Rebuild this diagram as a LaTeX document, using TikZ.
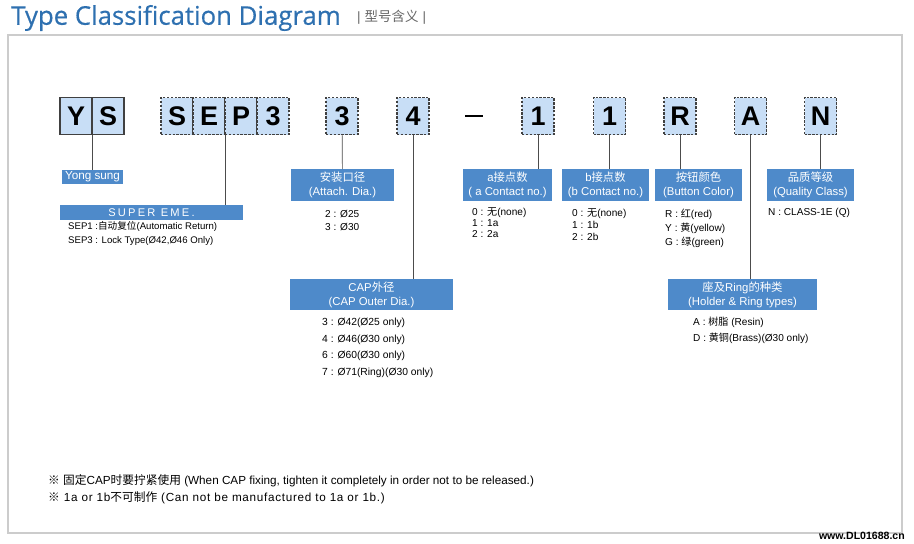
\documentclass[tikz,border=0pt]{standalone}
\usepackage{fontspec}
\setmainfont{Liberation Sans}
\newfontfamily\cjk{Noto Sans CJK SC}
\newfontfamily\titlefont[FakeBold=0.5]{Open Sans}
\usetikzlibrary{positioning}
\definecolor{titleblue}{RGB}{46,112,176}
\definecolor{keyfill}{RGB}{200,222,246}
\definecolor{tagblue}{RGB}{78,138,202}
\definecolor{framegray}{RGB}{204,204,204}
\newcommand{\zh}[1]{{\cjk #1}}

\begin{document}
\begin{tikzpicture}[
  x=0.3mm,y=-0.3mm,
  key/.style={draw=black!75,dash pattern=on 2pt off 1.3pt,fill=keyfill,line width=0.9pt,
              minimum width=9.6mm,minimum height=11.1mm,inner sep=0pt,outer sep=0pt,
              font=\fontsize{23}{23}\selectfont\bfseries},
  keysolid/.style={key,solid},
  tag/.style={fill=tagblue,text=white,inner sep=0pt,outer sep=0pt,align=center,
              minimum height=9.6mm,font=\fontsize{9.7}{12}\selectfont},
  lst/.style={anchor=north west,inner sep=0pt,align=left,font=\fontsize{8.6}{11}\selectfont},
  lead/.style={draw=black!70,line width=0.6pt},
]
\useasboundingbox (0,0) rectangle (914,543);

% heading and frame
\node[anchor=west,inner sep=0pt,text=titleblue,font=\titlefont\fontsize{22}{22}\selectfont]
  (title) at (11,18) {Type Classification Diagram};
\node[anchor=west,inner sep=0pt,text=black!60,font=\fontsize{11.5}{11.5}\selectfont]
  (subtitle) at (357,17) {|\hspace{1.2mm}\zh{型号含义}\hspace{1.2mm}|};
\node[draw=framegray,line width=1.4pt,inner sep=0pt,outer sep=0pt,
  minimum width=268.2mm,minimum height=149.4mm] (frame) at (455,284) {};

% code letters
\node[keysolid] (y) at (76,116) {Y};
\node[keysolid,right=0pt of y] (s) {S};
\node[key] (se) at (177,116) {S};
\node[key,right=0pt of se] (e) {E};
\node[key,right=0pt of e] (p) {P};
\node[key,right=0pt of p] (p3) {3};
\node[key] (dia) at (342,116) {3};
\node[key] (out) at (413,116) {4};
\node[inner sep=0pt] (dash) at (474,116) {\rule{5.4mm}{1.1pt}};
\node[key] (ac) at (538,116) {1};
\node[key] (bc) at (609.5,116) {1};
\node[key] (col) at (680,116) {R};
\node[key] (hold) at (750.5,116) {A};
\node[key] (qual) at (820.5,116) {N};

% blue tags
\node[tag,minimum width=18.3mm,minimum height=4.2mm,font=\fontsize{10}{10}\selectfont]
  (yong) at (92.5,177) {Yong sung};
\node[tag,minimum width=54.9mm,minimum height=4.5mm,
  font=\fontsize{9.5}{10}\selectfont\addfontfeatures{LetterSpace=20}]
  (super) at (151.5,212.5) {SUPER EME.};
\node[tag,minimum width=30.9mm] (attach) at (342.5,185) {\zh{安装口径}\\(Attach. Dia.)};
\node[tag,minimum width=26.7mm] (acont) at (507.5,185) {a\zh{接点数}\\( a Contact no.)};
\node[tag,minimum width=26.1mm] (bcont) at (605.5,185) {b\zh{接点数}\\(b Contact no.)};
\node[tag,minimum width=26.1mm] (button) at (698.5,185) {\zh{按钮颜色}\\(Button Color)};
\node[tag,minimum width=26.1mm] (quality) at (810.5,185) {\zh{品质等级}\\(Quality Class)};
\node[tag,minimum width=48.9mm,minimum height=9.3mm] (cap) at (371.5,294.5) {CAP\zh{外径}\\(CAP Outer Dia.)};
\node[tag,minimum width=44.7mm,minimum height=9.3mm] (holder) at (742.5,294.5) {\zh{座及}Ring\zh{的种类}\\(Holder \& Ring types)};

% option lists
\node[lst,font=\fontsize{8.2}{12.3}\selectfont] (seplist) at (68,221)
  {SEP1 :\zh{自动复位}(Automatic Return)\\SEP3 : Lock Type(Ø42,Ø46 Only)};
\node[lst] (attlist) at (325,210) {2 : Ø25\\3 : Ø30};
\node[lst,font=\fontsize{8.6}{9.6}\selectfont] (alist) at (472,207) {0 : \zh{无}(none)\\1 : 1a\\2 : 2a};
\node[lst,font=\fontsize{8.6}{10.6}\selectfont] (blist) at (572,208) {0 : \zh{无}(none)\\1 : 1b\\2 : 2b};
\node[lst,font=\fontsize{8.6}{11.9}\selectfont] (collist) at (665,209)
  {R : \zh{红}(red)\\Y : \zh{黄}(yellow)\\G : \zh{绿}(green)};
\node[lst] (quallist) at (768,208) {N : CLASS-1E (Q)};
\node[lst,font=\fontsize{8.8}{14.2}\selectfont] (caplist) at (322,318)
  {3 : Ø42(Ø25 only)\\4 : Ø46(Ø30 only)\\6 : Ø60(Ø30 only)\\7 : Ø71(Ring)(Ø30 only)};
\node[lst,font=\fontsize{8.6}{13.6}\selectfont] (holdlist) at (693,317)
  {A : \zh{树脂} (Resin)\\D : \zh{黄铜}(Brass)(Ø30 only)};

% notes
\node[lst,font=\fontsize{10}{14.5}\selectfont] (notes) at (48,474)
  {\zh{※} \zh{固定}CAP\zh{时要拧紧使用} (When CAP fixing, tighten it completely in order not to be released.)\\
   {\addfontfeatures{LetterSpace=6}\zh{※} 1a or 1b\zh{不可制作} (Can not be manufactured to 1a or 1b.)}};
\node[anchor=east,inner sep=0pt,font=\fontsize{9}{9}\selectfont\bfseries] (wm) at (905,536) {www.DL01688.cn};

% leader lines
\draw[lead] (y.south east) -- (y.south east |- yong.north);
\draw[lead] (e.south east) -- (e.south east |- super.north);
\draw[lead] (dia) -- (attach);
\draw[lead] (out.south) -- (out.south |- cap.north);
\draw[lead] (ac.south) -- (ac.south |- acont.north);
\draw[lead] (bc.south) -- (bc.south |- bcont.north);
\draw[lead] (col.south) -- (col.south |- button.north);
\draw[lead] (hold.south) -- (hold.south |- holder.north);
\draw[lead] (qual.south) -- (qual.south |- quality.north);
\end{tikzpicture}
\end{document}
